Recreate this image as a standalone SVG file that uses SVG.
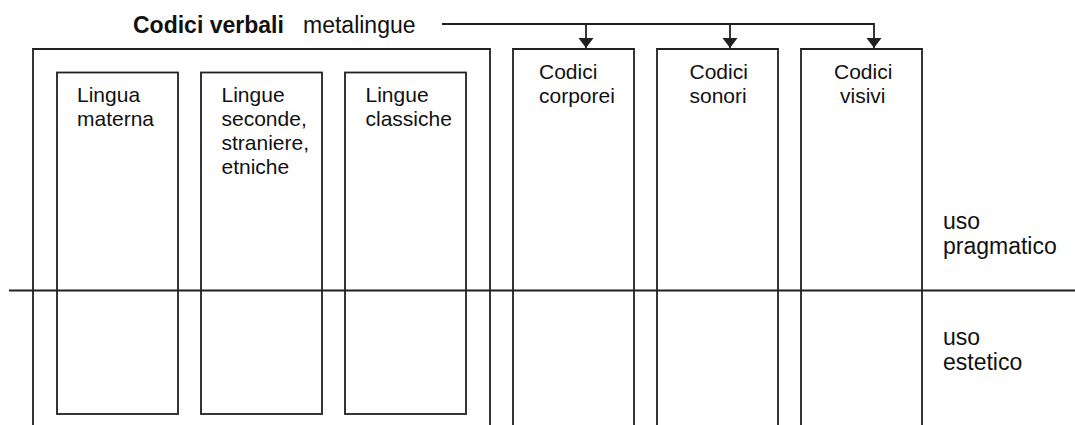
<svg xmlns="http://www.w3.org/2000/svg" width="1075" height="425" viewBox="0 0 1075 425">
  <style>
    .frame { fill: none; stroke: #231f20; stroke-width: 1.8; }
    .label { font-family: "Liberation Sans", Arial, sans-serif; font-size: 21px; fill: #111; }
    .title { font-family: "Liberation Sans", Arial, sans-serif; font-size: 23px; fill: #111; }
    .bold { font-weight: bold; }
    .wire { fill: none; stroke: #231f20; stroke-width: 1.8; }
  </style>
  <defs>
    <marker id="arrow" markerUnits="userSpaceOnUse" markerWidth="12" markerHeight="16" refX="10" refY="7.5" orient="auto">
      <path d="M0,0 L10,7.5 L0,15 z" fill="#231f20"/>
    </marker>
  </defs>
  <rect width="1075" height="425" fill="#fff"/>

  <!-- heading -->
  <g id="heading">
    <text class="title bold" x="133" y="33">Codici verbali</text>
    <text class="title" x="303" y="33">metalingue</text>
  </g>

  <!-- verbal codes container, open at the bottom -->
  <g id="codici-verbali">
    <path class="frame" d="M33,425 V49 H490 V425"/>
  </g>

  <g id="lingua-materna">
    <rect class="frame" x="57" y="72.5" width="121" height="341.5"/>
    <text class="label" x="77" y="102">Lingua</text>
    <text class="label" x="77" y="126">materna</text>
  </g>

  <g id="lingue-seconde">
    <rect class="frame" x="201" y="72.5" width="121" height="341.5"/>
    <text class="label" x="221.5" y="102">Lingue</text>
    <text class="label" x="221.5" y="126">seconde,</text>
    <text class="label" x="221.5" y="150">straniere,</text>
    <text class="label" x="221.5" y="174">etniche</text>
  </g>

  <g id="lingue-classiche">
    <rect class="frame" x="345" y="72.5" width="121" height="341.5"/>
    <text class="label" x="365.5" y="102">Lingue</text>
    <text class="label" x="365.5" y="126">classiche</text>
  </g>

  <!-- non-verbal code columns, open at the bottom -->
  <g id="codici-corporei">
    <path class="frame" d="M513,425 V49 H634 V425"/>
    <text class="label" x="539" y="79">Codici</text>
    <text class="label" x="539" y="103">corporei</text>
  </g>

  <g id="codici-sonori">
    <path class="frame" d="M657,425 V49 H778 V425"/>
    <text class="label" x="689.5" y="79">Codici</text>
    <text class="label" x="689.5" y="103">sonori</text>
  </g>

  <g id="codici-visivi">
    <path class="frame" d="M801,425 V49 H922 V425"/>
    <text class="label" x="834" y="79">Codici</text>
    <text class="label" x="840" y="103">visivi</text>
  </g>

  <!-- usage bands -->
  <g id="divisore">
    <line class="frame" x1="9" y1="290.5" x2="1075" y2="290.5"/>
  </g>

  <g id="uso-pragmatico">
    <text class="title" x="943" y="229">uso</text>
    <text class="title" x="943" y="254">pragmatico</text>
  </g>

  <g id="uso-estetico">
    <text class="title" x="943" y="345">uso</text>
    <text class="title" x="943" y="370">estetico</text>
  </g>

  <!-- metalanguage connectors -->
  <g id="connectors">
    <path class="wire" d="M442,24 H874 V48" marker-end="url(#arrow)"/>
    <path class="wire" d="M586,24 V48" marker-end="url(#arrow)"/>
    <path class="wire" d="M730,24 V48" marker-end="url(#arrow)"/>
  </g>
</svg>
